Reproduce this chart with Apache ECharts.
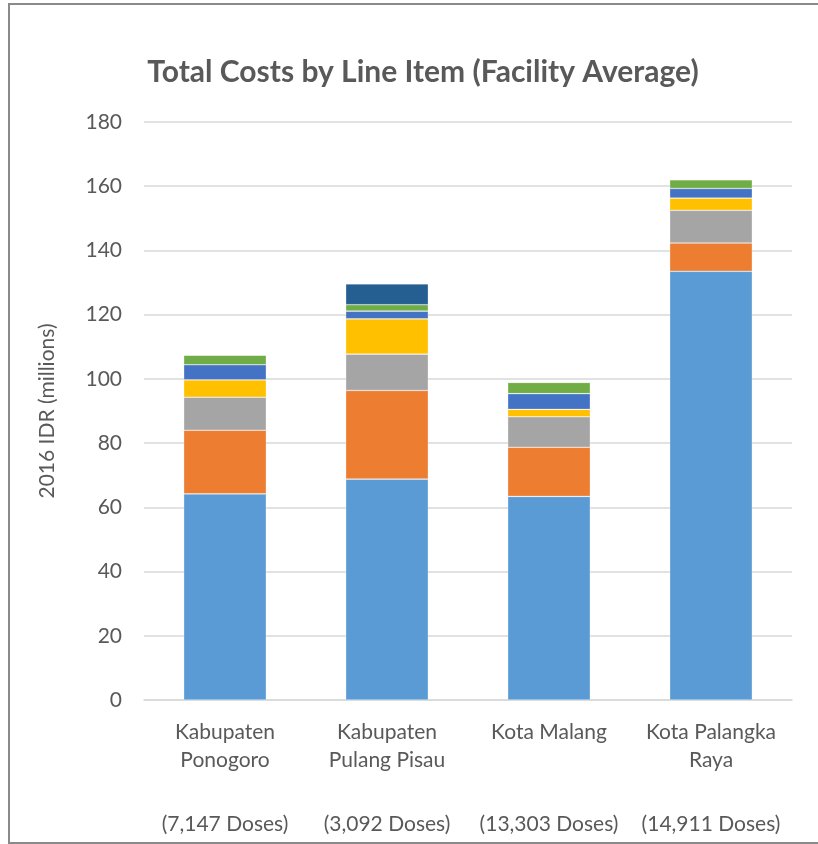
<!DOCTYPE html>
<html>
<head>
<meta charset="utf-8">
<style>
  html, body { margin: 0; padding: 0; background: #ffffff; }
  #chart { width: 818px; height: 844px; }
</style>
<script src="https://cdn.jsdelivr.net/npm/echarts@6/dist/echarts.min.js"></script>
</head>
<body>
<div id="chart"></div>
<script>
// Facility names and annual dose counts
const districts = ['Kabupaten\nPonogoro', 'Kabupaten\nPulang Pisau', 'Kota Malang', 'Kota Palangka\nRaya'];
const doses = ['(7,147 Doses)', '(3,092 Doses)', '(13,303 Doses)', '(14,911 Doses)'];

// Cost line items, 2016 IDR (millions), stacked bottom to top
const item1 = [64.2, 68.8, 63.4, 133.5];
const item2 = [19.8, 27.6, 15.3, 8.8];
const item3 = [10.3, 11.3, 9.5, 10.2];
const item4 = [5.4, 11.0, 2.3, 3.8];
const item5 = [4.7, 2.4, 4.9, 3.0];
const item6 = [3.0, 2.0, 3.5, 2.7];
const item7 = [0, 6.5, 0, 0];

const yTicks = { min: 0, max: 180, interval: 20 };

const seriesDefs = [
  { name: 'Item 1', data: item1, color: '#5B9BD5' },
  { name: 'Item 2', data: item2, color: '#ED7D31' },
  { name: 'Item 3', data: item3, color: '#A5A5A5' },
  { name: 'Item 4', data: item4, color: '#FFC000' },
  { name: 'Item 5', data: item5, color: '#4472C4' },
  { name: 'Item 6', data: item6, color: '#70AD47' },
  { name: 'Item 7', data: item7, color: '#255E91' }
];

const FONT = 'Lato, "Open Sans", sans-serif';
const TEXT = '#595959';

const chart = echarts.init(document.getElementById('chart'));

const categoryLabels = districts.map((d, i) => {
  const lines = d.split('\n');
  const nameLines = lines.length === 1 ? [lines[0], ''] : lines;
  return nameLines.join('\n') + '\n{g| }\n' + doses[i];
});

chart.setOption({
  animation: false,
  backgroundColor: '#ffffff',
  title: {
    text: 'Total Costs by Line Item (Facility Average)',
    left: 418,
    textAlign: 'center',
    top: 52,
    textStyle: { fontFamily: FONT, fontSize: 30, fontWeight: 'bold', color: TEXT }
  },
  grid: { left: 144, right: 26, top: 122, bottom: 144, containLabel: false },
  xAxis: {
    type: 'category',
    data: categoryLabels,
    axisTick: { show: false },
    axisLine: { show: true, lineStyle: { color: '#d9d9d9', width: 1.5 } },
    axisLabel: {
      interval: 0,
      margin: 18,
      fontFamily: FONT,
      fontSize: 21,
      color: TEXT,
      lineHeight: 28,
      rich: { g: { lineHeight: 36, fontSize: 21 } }
    }
  },
  yAxis: {
    type: 'value',
    min: yTicks.min,
    max: yTicks.max,
    interval: yTicks.interval,
    name: '2016 IDR (millions)',
    nameLocation: 'middle',
    nameRotate: 90,
    nameGap: 86,
    nameTextStyle: { fontFamily: FONT, fontSize: 21, color: TEXT },
    axisLine: { show: false },
    axisTick: { show: false },
    axisLabel: { fontFamily: FONT, fontSize: 21, color: TEXT, margin: 22 },
    splitLine: { lineStyle: { color: '#d9d9d9', width: 1.5 } }
  },
  series: seriesDefs.map(s => ({
    name: s.name,
    type: 'bar',
    stack: 'total',
    barWidth: '51%',
    data: s.data,
    itemStyle: { color: s.color, borderColor: 'rgba(255,255,255,0.5)', borderWidth: 0.6 }
  })),
  graphic: [
    {
      type: 'rect',
      shape: { x: 9, y: 4, width: 830, height: 839 },
      style: { fill: 'none', stroke: '#8a8a8a', lineWidth: 2 },
      silent: true,
      z: 100
    }
  ]
});
</script>
</body>
</html>
